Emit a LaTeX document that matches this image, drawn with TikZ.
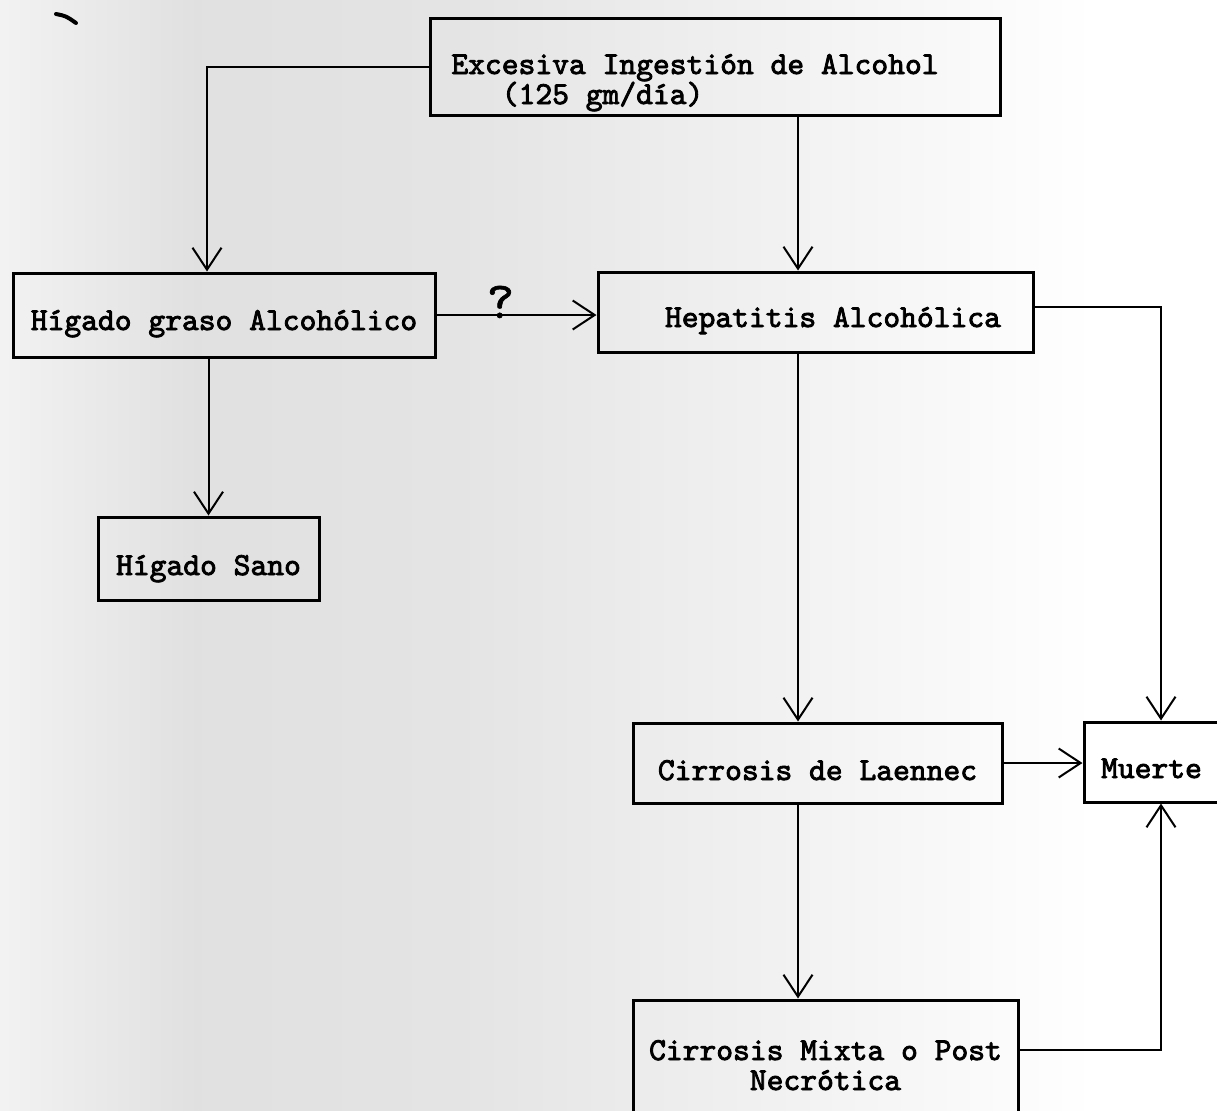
\documentclass[tikz,border=0pt]{standalone}
\usepackage{fontspec}
\newfontfamily\typew[FakeBold=2.6]{lmmono10-regular.otf}
\newfontfamily\typeq[FakeBold=1.2]{lmmono10-regular.otf}
\usetikzlibrary{arrows.meta}
\definecolor{bgA}{gray}{0.95}
\definecolor{bgB}{gray}{0.88}
\definecolor{bgC}{gray}{0.895}
\definecolor{bgD}{gray}{0.95}
\pgfdeclarehorizontalshading{scanbg}{100bp}{color(0bp)=(bgA); color(25bp)=(bgA); color(33bp)=(bgB); color(44bp)=(bgC); color(58bp)=(bgD); color(70bp)=(white); color(100bp)=(white)}
\newcommand\lefttwo[2]{\vtop{\halign{##\hfil\cr#1\cr#2\cr}}}
\newcommand\centwo[2]{\vtop{\halign{\hfil##\hfil\cr#1\cr#2\cr}}}
\begin{document}
\begin{tikzpicture}[x=0.5pt,y=-0.5pt,
  box/.style={draw=black, line width=1.5pt, inner sep=0pt,
    font=\typew\fontsize{16pt}{15pt}\selectfont},
  conn/.style={line width=1pt, -{Straight Barb[length=11pt,width=14.5pt]}},
  qmark/.style={font=\typeq\fontsize{26pt}{26pt}\selectfont, inner sep=0pt, anchor=base, yshift=-1.5pt}]
\useasboundingbox (0,0) rectangle (1217,1110);
\shade[shading=scanbg] (0,0) rectangle (1217,1110);
% stray scan mark
\draw[line width=2pt, line cap=round] (56,14) .. controls (66,16) .. (76,23);

\coordinate (cA) at (798,0);
\coordinate (cM) at (1161,0);
\coordinate (cL) at (207,0);
\coordinate (rM) at (0,1050);

\node[box, minimum width=285pt, text height=28pt, text depth=20.5pt] (top) at (715,66.5)
  {\lefttwo{Excesiva Ingestión de Alcohol\hspace*{20pt}}{\hphantom{000}(125 gm/día)}};
\node[box, minimum width=211pt, text height=28.5pt, text depth=13.5pt] (hg) at (224,315)
  {Hígado graso Alcohólico};
\node[box, minimum width=217.5pt, text height=27.5pt, text depth=12.5pt] (hep) at (815.5,312)
  {\hspace*{17.5pt}Hepatitis Alcohólica};
\node[box, minimum width=110.5pt, text height=29pt, text depth=12.5pt] (sano) at (208.5,558.5)
  {Hígado Sano};
\node[box, minimum width=184.5pt, text height=28.5pt, text depth=11.5pt] (lae) at (817.5,763)
  {Cirrosis de Laennec};
\node[box, minimum width=67.5pt, text height=28pt, text depth=12pt] (mu) at (1151.5,762)
  {Muerte};
\node[box, minimum width=192.5pt, text height=30pt, text depth=36pt] (mix) at (825.5,1066)
  {\centwo{Cirrosis Mixta o Post}{Necrótica}};

\draw[conn] (top.west) -| (hg.north -| cL);
\draw[conn] (top.south -| cA) -- (hep.north -| cA);
\draw[conn] (hg.east) -- node[qmark, pos=0.4] (q) {?} (hg.east -| hep.west);
\draw[conn] (hg.south -| sano.north) -- (sano.north);
\draw[conn] (hep.south -| cA) -- (lae.north -| cA);
\draw[conn] ([yshift=2.5pt]hep.east) -| (mu.north -| cM);
\draw[conn] (lae.east) -- (lae.east -| mu.west);
\draw[conn] (lae.south -| cA) -- (mix.north -| cA);
\draw[conn] (mix.east |- rM) -| (mu.south -| cM);
\end{tikzpicture}
\end{document}
